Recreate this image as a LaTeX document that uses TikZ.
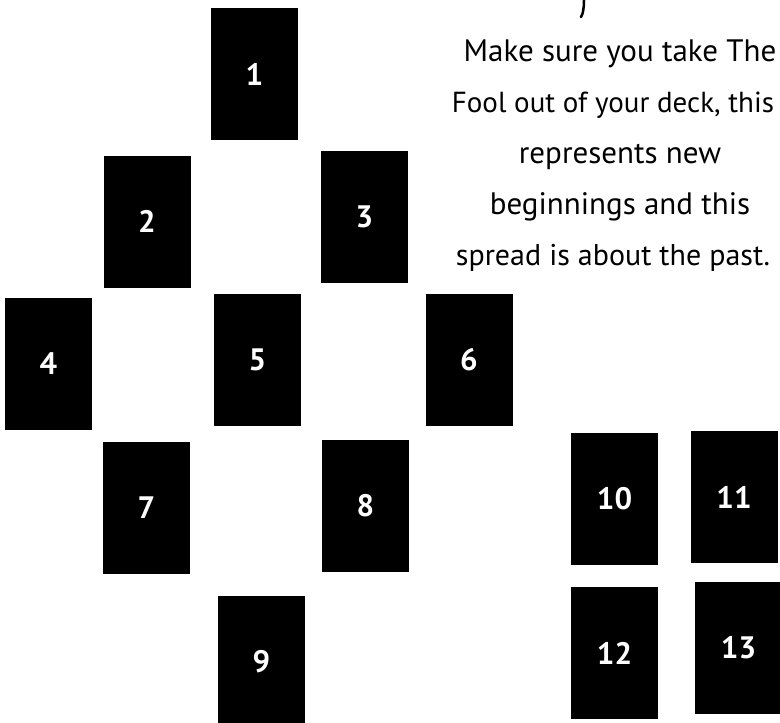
\documentclass[tikz,border=0pt]{standalone}
\usepackage{fontspec}
\setmainfont{PT Sans}
\begin{document}
\begin{tikzpicture}[x=1pt,y=-1pt,
  card/.style={fill=black, text=white, minimum width=87pt, minimum height=132pt, inner sep=0pt,
    font=\fontsize{31}{31}\selectfont\bfseries},
  line/.style={anchor=base, text=black, inner sep=0pt, font=\fontsize{31}{31}\selectfont}]
\useasboundingbox (0,0) rectangle (780,723);
\clip (0,0) rectangle (780,723);
\node[card] (c1) at (254.5,74) {1};
\node[card] (c2) at (147,221.5) {2};
\node[card] (c3) at (364.5,216.5) {3};
\node[card] (c4) at (48.5,363.5) {4};
\node[card] (c5) at (257.5,360) {5};
\node[card] (c6) at (469,360) {6};
\node[card] (c7) at (146.5,508) {7};
\node[card] (c8) at (365.5,506) {8};
\node[card] (c9) at (261.5,662) {9};
\node[card] (c10) at (614.5,498.5) {10};
\node[card] (c11) at (734,497) {11};
\node[card] (c12) at (614.5,653) {12};
\node[card] (c13) at (738.5,648) {13};
\node[line] (t1) at (620,61) {Make sure you take The};
\node[line, font=\fontsize{29}{29}\selectfont] (t2) at (613,112) {Fool out of your deck, this};
\node[line] (t3) at (620,163) {represents new};
\node[line] (t4) at (620,214) {beginnings and this};
\node[line, font=\fontsize{30}{30}\selectfont] (t5) at (613,265) {spread is about the past.};
\draw[line width=2.5pt, line cap=round] (584,0) .. controls (584,8) and (583,14) .. (581,17);
\end{tikzpicture}
\end{document}
